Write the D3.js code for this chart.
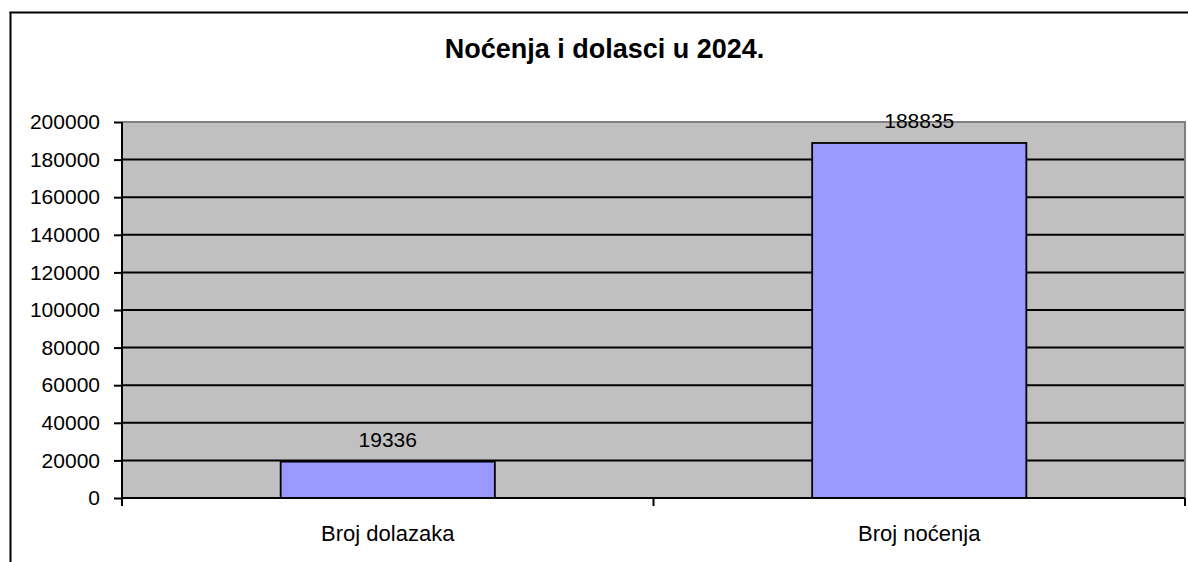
<!DOCTYPE html>
<html>
<head>
<meta charset="utf-8">
<script src="https://cdn.jsdelivr.net/npm/d3@7"></script>
<style>
  html, body { margin: 0; padding: 0; background: #fff; }
  svg { display: block; }
  text { font-family: "Liberation Sans", Arial, sans-serif; fill: #000; }
</style>
</head>
<body>
<svg id="chart" width="1188" height="562"></svg>
<script>
const title = "Noćenja i dolasci u 2024.";
const categories = ["Broj dolazaka", "Broj noćenja"];
const values = [19336, 188835];
const yTicks = [0, 20000, 40000, 60000, 80000, 100000, 120000, 140000, 160000, 180000, 200000];

const W = 1188, H = 562;
const plot = { left: 122, right: 1185, top: 122, bottom: 498 };
const svg = d3.select("#chart");

// outer frame (left and top edges visible)
svg.append("line").attr("x1", 10.5).attr("y1", 12).attr("x2", 10.5).attr("y2", H)
  .attr("stroke", "#000").attr("stroke-width", 2);
svg.append("line").attr("x1", 9.5).attr("y1", 12.5).attr("x2", W).attr("y2", 12.5)
  .attr("stroke", "#000").attr("stroke-width", 2);

// title
svg.append("text").attr("x", 604.5).attr("y", 58).attr("text-anchor", "middle")
  .attr("font-size", 27).attr("font-weight", "bold").text(title);

const x = d3.scaleBand().domain(categories).range([plot.left, plot.right]).padding(0);
const y = d3.scaleLinear().domain([0, 200000]).range([plot.bottom, plot.top]);

// plot background
svg.append("rect").attr("x", plot.left).attr("y", plot.top)
  .attr("width", plot.right - plot.left).attr("height", plot.bottom - plot.top)
  .attr("fill", "#c0c0c0");

// gridlines
svg.append("g").selectAll("line").data(yTicks.filter(d => d > 0 && d < 200000)).join("line")
  .attr("x1", plot.left).attr("x2", plot.right)
  .attr("y1", d => y(d)).attr("y2", d => y(d))
  .attr("stroke", "#000").attr("stroke-width", 2);

// plot border top/right gray
svg.append("path")
  .attr("d", `M${plot.left},${plot.top}H${plot.right}V${plot.bottom}`)
  .attr("fill", "none").attr("stroke", "#808080").attr("stroke-width", 2);

// bars
const barFrac = 0.403;
svg.append("g").selectAll("rect").data(values).join("rect")
  .attr("x", (d, i) => x(categories[i]) + x.bandwidth() * (1 - barFrac) / 2)
  .attr("width", x.bandwidth() * barFrac)
  .attr("y", d => y(d))
  .attr("height", d => y(0) - y(d))
  .attr("fill", "#9999ff").attr("stroke", "#000").attr("stroke-width", 1.8);

// value labels
svg.append("g").selectAll("text").data(values).join("text")
  .attr("x", (d, i) => x(categories[i]) + x.bandwidth() / 2)
  .attr("y", d => y(d) - 15)
  .attr("text-anchor", "middle").attr("font-size", 21)
  .text(d => d);

// y axis
const yAxis = d3.axisLeft(y).tickValues(yTicks).tickSize(8).tickSizeOuter(0).tickPadding(14)
  .tickFormat(d3.format("d"));
const gy = svg.append("g").attr("transform", `translate(${plot.left},0)`).call(yAxis);
gy.select(".domain").attr("stroke", "#000").attr("stroke-width", 2)
  .attr("d", `M0,${plot.top}V${plot.bottom + 8}`);
gy.selectAll(".tick line").attr("stroke", "#000").attr("stroke-width", 2);
gy.selectAll(".tick text").attr("font-size", 21).attr("font-family", "Liberation Sans, Arial, sans-serif")
  .attr("fill", "#000").attr("dy", "0.32em");

// x axis
const xAxis = d3.axisBottom(x).tickSize(0).tickSizeOuter(0).tickPadding(27);
const gx = svg.append("g").attr("transform", `translate(0,${plot.bottom})`).call(xAxis);
gx.select(".domain").attr("stroke", "#000").attr("stroke-width", 2)
  .attr("d", `M${plot.left},0H${plot.right}`);
gx.selectAll(".tick text").attr("font-size", 22).attr("font-family", "Liberation Sans, Arial, sans-serif")
  .attr("fill", "#000");
// category boundary ticks
const bounds = [plot.left, ...categories.slice(1).map(c => x(c)), plot.right];
gx.append("g").selectAll("line").data(bounds).join("line")
  .attr("x1", d => d).attr("x2", d => d).attr("y1", 0).attr("y2", 8)
  .attr("stroke", "#000").attr("stroke-width", 2);
</script>
</body>
</html>
